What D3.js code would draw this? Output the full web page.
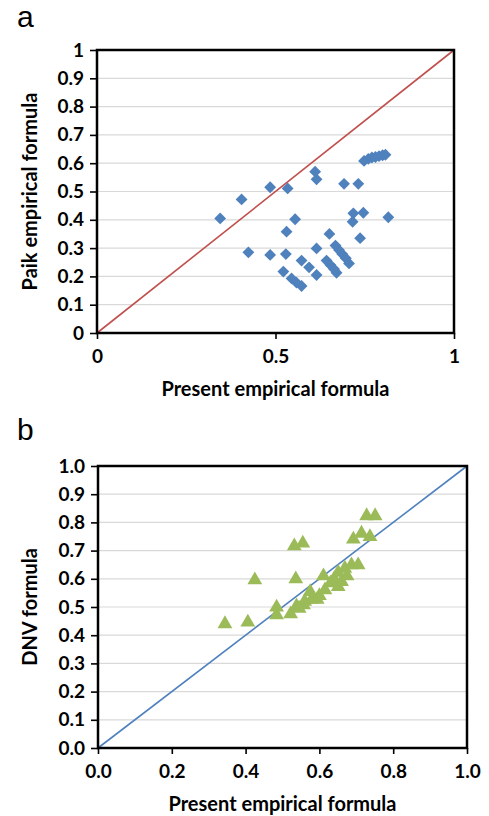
<!DOCTYPE html>
<html>
<head>
<meta charset="utf-8">
<script src="https://cdn.jsdelivr.net/npm/d3@7"></script>
<style>
  html, body { margin: 0; padding: 0; background: #fff; }
  svg { display: block; }
  .tick text { font-family: Lato, "Open Sans", sans-serif; font-weight: bold; font-size: 19px; fill: #000; }
  .title { font-family: Lato, "Open Sans", sans-serif; font-weight: bold; font-size: 20px; fill: #000; }
  .panel { font-family: "Liberation Sans", Arial, sans-serif; font-size: 30px; fill: #000; }
</style>
</head>
<body>
<svg id="chart" width="489" height="816"></svg>
<script>
// Panel a: present empirical formula vs Paik empirical formula
const presentA = [0.345, 0.405, 0.424, 0.485, 0.485, 0.534, 0.529, 0.531, 0.555, 0.522,
  0.545, 0.559, 0.573, 0.573, 0.594, 0.615, 0.615, 0.611, 0.615, 0.651,
  0.643, 0.654, 0.664, 0.671, 0.668, 0.678, 0.687, 0.697, 0.706, 0.692,
  0.732, 0.718, 0.746, 0.716, 0.737, 0.816, 0.748, 0.760, 0.770, 0.780,
  0.790, 0.800, 0.808];
const paikA = [0.405, 0.472, 0.285, 0.515, 0.276, 0.511, 0.279, 0.358, 0.402, 0.217,
  0.193, 0.178, 0.166, 0.256, 0.232, 0.205, 0.299, 0.570, 0.543, 0.350,
  0.256, 0.240, 0.226, 0.213, 0.309, 0.293, 0.279, 0.264, 0.246, 0.527,
  0.527, 0.423, 0.425, 0.393, 0.335, 0.409, 0.608, 0.615, 0.620, 0.622,
  0.625, 0.628, 0.630];

// Panel b: present empirical formula vs DNV formula
const presentB = [0.344, 0.406, 0.425, 0.484, 0.484, 0.522, 0.532, 0.555, 0.536, 0.538,
  0.557, 0.575, 0.579, 0.594, 0.611, 0.615, 0.651, 0.651, 0.669, 0.687,
  0.705, 0.692, 0.714, 0.737, 0.728, 0.751, 0.560, 0.600, 0.640, 0.660,
  0.675, 0.545, 0.630];
const dnvB = [0.440, 0.446, 0.596, 0.499, 0.472, 0.475, 0.716, 0.726, 0.599, 0.503,
  0.507, 0.554, 0.527, 0.527, 0.610, 0.560, 0.622, 0.572, 0.637, 0.649,
  0.649, 0.740, 0.761, 0.749, 0.823, 0.823, 0.520, 0.540, 0.600, 0.590,
  0.610, 0.495, 0.585];

const ticksAY = [0, 0.1, 0.2, 0.3, 0.4, 0.5, 0.6, 0.7, 0.8, 0.9, 1];
const ticksAX = [0, 0.5, 1];
const ticksB = [0, 0.1, 0.2, 0.3, 0.4, 0.5, 0.6, 0.7, 0.8, 0.9, 1.0];
const ticksBX = [0, 0.2, 0.4, 0.6, 0.8, 1.0];

const svg = d3.select("#chart");

function panel(cfg) {
  const x = d3.scaleLinear().domain([0, 1]).range([cfg.left, cfg.right]);
  const y = d3.scaleLinear().domain([0, 1]).range([cfg.bottom, cfg.top]);
  const g = svg.append("g");

  // horizontal gridlines
  g.append("g").selectAll("line").data(cfg.yTicks.slice(1, -1)).join("line")
    .attr("x1", cfg.left).attr("x2", cfg.right)
    .attr("y1", d => y(d)).attr("y2", d => y(d))
    .attr("stroke", "#d9d9d9").attr("stroke-width", 1.2);

  // 1:1 reference line
  g.append("line")
    .attr("x1", x(0)).attr("y1", y(0)).attr("x2", x(1)).attr("y2", y(1))
    .attr("stroke", cfg.lineColor).attr("stroke-width", 1.6);

  // points
  const sym = d3.symbol().type(cfg.symbol).size(cfg.symbolSize);
  g.append("g").selectAll("path").data(cfg.xs.map((v, i) => [v, cfg.ys[i]])).join("path")
    .attr("d", sym)
    .attr("transform", d => `translate(${x(d[0])},${y(d[1])})` + (cfg.rotate ? " rotate(45)" : ""))
    .attr("fill", cfg.color);

  // frame
  g.append("rect")
    .attr("x", cfg.left).attr("y", cfg.top)
    .attr("width", cfg.right - cfg.left).attr("height", cfg.bottom - cfg.top)
    .attr("fill", "none").attr("stroke", "#000").attr("stroke-width", 2.5);

  // axes
  const yAxis = d3.axisLeft(y).tickValues(cfg.yTicks).tickFormat(cfg.fmt).tickSize(7).tickPadding(6);
  const ya = g.append("g").attr("transform", `translate(${cfg.left},0)`).call(yAxis);
  const xAxis = d3.axisBottom(x).tickValues(cfg.xTicks).tickFormat(cfg.fmt).tickSize(6).tickPadding(11);
  const xa = g.append("g").attr("transform", `translate(0,${cfg.bottom})`).call(xAxis);
  [ya, xa].forEach(a => {
    a.select(".domain").remove();
    a.selectAll(".tick line").attr("stroke", "#000").attr("stroke-width", 1.6);
  });

  // axis titles
  g.append("text").attr("class", "title")
    .attr("x", (cfg.left + cfg.right) / 2).attr("y", cfg.xTitleY)
    .attr("text-anchor", "middle").text(cfg.xTitle);
  g.append("text").attr("class", "title")
    .attr("transform", `translate(${cfg.yTitleX},${(cfg.top + cfg.bottom) / 2}) rotate(-90)`)
    .attr("text-anchor", "middle").text(cfg.yTitle);

  // panel letter
  g.append("text").attr("class", "panel")
    .attr("x", 17).attr("y", cfg.letterY).text(cfg.letter);
}

panel({
  left: 97, right: 454, top: 50, bottom: 333,
  xs: presentA, ys: paikA,
  yTicks: ticksAY, xTicks: ticksAX, fmt: d3.format("~g"),
  color: "#4f81bd", lineColor: "#c0504d",
  symbol: d3.symbolSquare, symbolSize: 70, rotate: true,
  xTitle: "Present empirical formula", xTitleY: 396,
  yTitle: "Paik  empirical formula", yTitleX: 37,
  letter: "a", letterY: 27
});

panel({
  left: 98, right: 467, top: 466, bottom: 748,
  xs: presentB, ys: dnvB,
  yTicks: ticksB, xTicks: ticksBX, fmt: d3.format(".1f"),
  color: "#9bbb59", lineColor: "#4f81bd",
  symbol: d3.symbolTriangle, symbolSize: 95, rotate: false,
  xTitle: "Present empirical formula", xTitleY: 811,
  yTitle: "DNV formula", yTitleX: 37,
  letter: "b", letterY: 440
});
</script>
</body>
</html>
